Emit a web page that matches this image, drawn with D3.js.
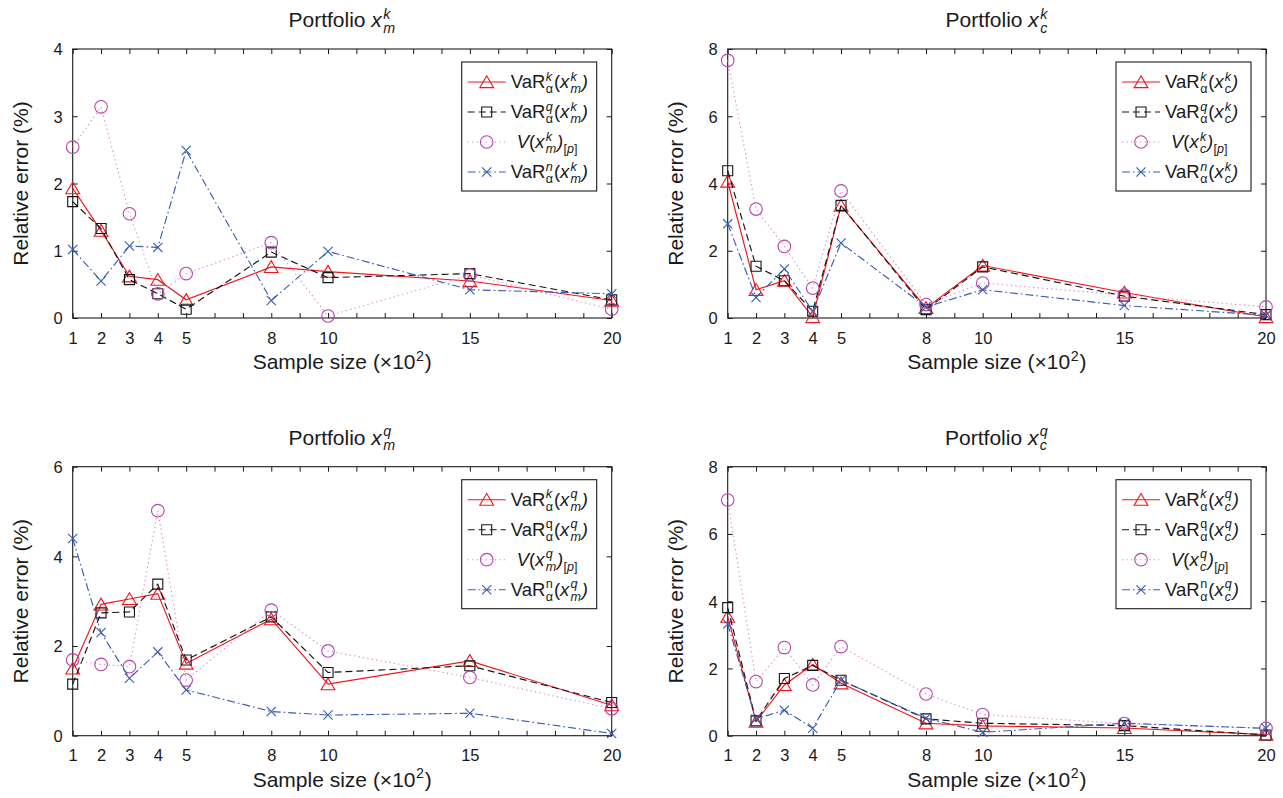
<!DOCTYPE html>
<html>
<head>
<meta charset="utf-8">
<script src="https://cdn.jsdelivr.net/npm/d3@7"></script>
<style>
  body { margin: 0; background: #fff; }
  svg { display: block; }
  text { font-family: "Liberation Sans", Arial, Helvetica, sans-serif; fill: #1a1a1a; white-space: pre; }
</style>
</head>
<body>
<svg id="chart" width="1283" height="798"></svg>
<script>
// Sample sizes (x 10^2) and the labelled x ticks
const sampleSizes = [1, 2, 3, 4, 5, 8, 10, 15, 20];
const xTickLabels = [1, 2, 3, 4, 5, 8, 10, 15, 20];

// y ticks per panel
const yTicksMK = [0, 1, 2, 3, 4];
const yTicksCK = [0, 2, 4, 6, 8];
const yTicksMQ = [0, 2, 4, 6];
const yTicksCQ = [0, 2, 4, 6, 8];

// Portfolio x_m^k : relative error (%)
const mkVaRk = [1.93, 1.30, 0.62, 0.57, 0.27, 0.76, 0.69, 0.55, 0.26];
const mkVaRq = [1.73, 1.33, 0.57, 0.36, 0.13, 0.98, 0.60, 0.66, 0.27];
const mkV    = [2.54, 3.14, 1.55, 0.36, 0.66, 1.12, 0.03, 0.64, 0.13];
const mkVaRn = [1.02, 0.55, 1.07, 1.05, 2.49, 0.26, 0.99, 0.42, 0.36];

// Portfolio x_c^k
const ckVaRk = [4.06, 0.84, 1.11, 0.03, 3.34, 0.30, 1.56, 0.76, 0.03];
const ckVaRq = [4.38, 1.54, 1.11, 0.20, 3.35, 0.25, 1.52, 0.65, 0.10];
const ckV    = [7.66, 3.24, 2.13, 0.89, 3.78, 0.40, 1.04, 0.68, 0.33];
const ckVaRn = [2.80, 0.61, 1.46, 0.20, 2.23, 0.33, 0.84, 0.37, 0.08];

// Portfolio x_m^q
const mqVaRk = [1.50, 2.93, 3.05, 3.17, 1.61, 2.60, 1.15, 1.67, 0.68];
const mqVaRq = [1.15, 2.74, 2.76, 3.38, 1.69, 2.65, 1.41, 1.56, 0.74];
const mqV    = [1.69, 1.59, 1.54, 5.02, 1.24, 2.80, 1.89, 1.30, 0.60];
const mqVaRn = [4.40, 2.30, 1.28, 1.87, 1.02, 0.54, 0.46, 0.50, 0.05];

// Portfolio x_c^q
const cqVaRk = [3.54, 0.42, 1.51, 2.12, 1.56, 0.37, 0.29, 0.23, 0.03];
const cqVaRq = [3.81, 0.44, 1.70, 2.09, 1.65, 0.50, 0.37, 0.30, 0.02];
const cqV    = [7.01, 1.61, 2.62, 1.51, 2.65, 1.24, 0.63, 0.36, 0.22];
const cqVaRn = [3.32, 0.50, 0.76, 0.22, 1.65, 0.52, 0.10, 0.37, 0.22];

// ---------- styles ----------
const styles = [
  { line: "#f2141c", marker: "#f2141c", dash: null,        shape: "tri" },
  { line: "#141414", marker: "#141414", dash: "7,4",       shape: "sq"  },
  { line: "#d98ad2", marker: "#b445aa", dash: "1.3,3.2",   shape: "circ"},
  { line: "#3a5cb6", marker: "#3a5cb6", dash: "8,3,1.6,3", shape: "x"   }
];

const circlePath = (() => { const p = d3.path(); p.arc(0, 0, 6.3, 0, 2 * Math.PI); p.closePath(); return p.toString(); })();
const markerPath = {
  tri: "M0,-6.2L6.9,5.6L-6.9,5.6Z",
  sq: "M-5,-5H5V5H-5Z",
  circ: circlePath,
  x: "M-4.6,-4.6L4.6,4.6M4.6,-4.6L-4.6,4.6"
};

// ---------- rich text with stacked scripts ----------
function run(grp, parts, x, y, fs) {
  const el = grp.append("text").attr("x", x).attr("y", y).attr("font-size", fs)
    .attr("xml:space", "preserve");
  parts.forEach(([t, it]) => el.append("tspan").attr("font-style", it ? "italic" : "normal").text(t));
  return el.node().getComputedTextLength();
}

function rich(parent, tokens, x, y, fs, anchor) {
  const g = parent.append("g");
  const ss = fs * 0.68;
  let cx = 0;
  tokens.forEach(tk => {
    if (tk.t !== undefined) {
      cx += run(g, [[tk.t, tk.i]], cx, 0, fs);
    } else {
      const x0 = cx + (tk.dx || 0.5);
      let w = 0;
      if (tk.sup) w = Math.max(w, run(g, tk.sup, x0, -fs * 0.40, ss));
      if (tk.sub) w = Math.max(w, run(g, tk.sub, x0, fs * 0.27, ss));
      cx = x0 + w + 0.8;
    }
  });
  const shift = anchor === "middle" ? -cx / 2 : anchor === "end" ? -cx : 0;
  g.attr("transform", `translate(${x + shift},${y})`);
  return cx;
}

// token builders
const varTok = (supTxt, supIt, portSub, portSup) => [
  { t: "VaR" },
  { sup: [[supTxt, supIt]], sub: [["α", 0]] },
  { t: "(" }, { t: "x", i: 1 },
  { sup: [[portSup, 1]], sub: [[portSub, 1]], dx: 1.2 },
  { t: ")", i: 1 }
];
const vTok = (portSub, portSup) => [
  { t: "V", i: 1 }, { t: "(" }, { t: "x", i: 1 },
  { sup: [[portSup, 1]], sub: [[portSub, 1]], dx: 1.2 },
  { t: ")", i: 1 },
  { sub: [["[", 0], ["p", 1], ["]", 0]], dx: 0.3 }
];

// ---------- panels ----------
const panels = [
  { sub: "m", sup: "k", qIt: 1, nIt: 1, series: [mkVaRk, mkVaRq, mkV, mkVaRn], yTicks: yTicksMK,
    box: { x: 72.7, y: 49, w: 539, h: 269 } },
  { sub: "c", sup: "k", qIt: 1, nIt: 1, series: [ckVaRk, ckVaRq, ckV, ckVaRn], yTicks: yTicksCK,
    box: { x: 727.7, y: 49, w: 538.3, h: 269 } },
  { sub: "m", sup: "q", qIt: 0, nIt: 0, series: [mqVaRk, mqVaRq, mqV, mqVaRn], yTicks: yTicksMQ,
    box: { x: 72.7, y: 466.7, w: 539, h: 269 } },
  { sub: "c", sup: "q", qIt: 0, nIt: 0, series: [cqVaRk, cqVaRq, cqV, cqVaRn], yTicks: yTicksCQ,
    box: { x: 727.7, y: 466.7, w: 538.3, h: 269 } }
];

const svg = d3.select("#chart");

panels.forEach(p => {
  const b = p.box;
  const g = svg.append("g").attr("transform", `translate(${b.x},${b.y})`);
  const x = d3.scaleLinear().domain([1, 20]).range([0, b.w]);
  const y = d3.scaleLinear().domain([0, d3.max(p.yTicks)]).range([b.h, 0]);
  const minorX = d3.range(1, 21);

  // axes (inward ticks on all four sides)
  const tickLen = 5;
  const bottom = g.append("g").attr("transform", `translate(0,${b.h})`)
    .call(d3.axisBottom(x).tickValues(minorX).tickSizeInner(-tickLen).tickSizeOuter(0)
      .tickFormat(d => xTickLabels.includes(d) ? d : ""));
  const top = g.append("g")
    .call(d3.axisTop(x).tickValues(minorX).tickSizeInner(-tickLen).tickSizeOuter(0).tickFormat(""));
  const left = g.append("g")
    .call(d3.axisLeft(y).tickValues(p.yTicks).tickSizeInner(-tickLen).tickSizeOuter(0).tickFormat(d3.format("d")));
  const right = g.append("g").attr("transform", `translate(${b.w},0)`)
    .call(d3.axisRight(y).tickValues(p.yTicks).tickSizeInner(-tickLen).tickSizeOuter(0).tickFormat(""));
  [bottom, top, left, right].forEach(a => {
    a.select(".domain").remove();
    a.selectAll("line").attr("stroke", "#1a1a1a").attr("stroke-width", 1);
    a.selectAll("text").attr("font-size", 16.5).attr("fill", "#1a1a1a")
      .attr("font-family", "'Liberation Sans', Arial, sans-serif");
  });
  bottom.selectAll("text").attr("y", 14).attr("dy", "0.71em");
  left.selectAll("text").attr("x", -10).attr("dy", "0.36em");

  g.append("rect").attr("width", b.w).attr("height", b.h)
    .attr("fill", "none").attr("stroke", "#1a1a1a").attr("stroke-width", 1.1);

  // series lines then markers
  p.series.forEach((vals, si) => {
    const st = styles[si];
    const pts = sampleSizes.map((s, i) => [x(s), y(vals[i])]);
    g.append("path").attr("d", d3.line()(pts)).attr("fill", "none")
      .attr("stroke", st.line).attr("stroke-width", 1.15)
      .attr("stroke-dasharray", st.dash);
    g.append("g").selectAll("path").data(pts).join("path")
      .attr("transform", d => `translate(${d[0]},${d[1]})`)
      .attr("d", markerPath[st.shape]).attr("fill", "none")
      .attr("stroke", st.marker).attr("stroke-width", 1.1);
  });

  // title
  rich(g, [{ t: "Portfolio\u00a0" }, { t: "x", i: 1 },
           { sup: [[p.sup, 1]], sub: [[p.sub, 1]], dx: 1.4 }],
       b.w / 2, -22, 21, "middle");

  // axis labels
  rich(g, [{ t: "Sample size (×10" }, { sup: [["2", 0]], dx: 0.5 }, { t: ")" }],
       b.w / 2, b.h + 51, 21, "middle");
  g.append("text").attr("transform", `translate(${-45},${b.h / 2}) rotate(-90)`)
    .attr("text-anchor", "middle").attr("font-size", 21).text("Relative error (%)");

  // legend
  const lw = 135, lh = 129;
  const lx = b.w - 15 - lw, ly = 13;
  const lg = g.append("g").attr("transform", `translate(${lx},${ly})`);
  lg.append("rect").attr("width", lw).attr("height", lh)
    .attr("fill", "#fff").attr("stroke", "#1a1a1a").attr("stroke-width", 1.1);
  const entries = [
    varTok("k", 1, p.sub, p.sup),
    varTok("q", p.qIt, p.sub, p.sup),
    vTok(p.sub, p.sup),
    varTok("n", p.nIt, p.sub, p.sup)
  ];
  entries.forEach((tok, i) => {
    const st = styles[i];
    const ry = 20 + 30 * i;
    lg.append("line").attr("x1", 6).attr("x2", 44).attr("y1", ry).attr("y2", ry)
      .attr("stroke", st.line).attr("stroke-width", 1.15).attr("stroke-dasharray", st.dash);
    lg.append("path").attr("transform", `translate(25,${ry})`).attr("d", markerPath[st.shape])
      .attr("fill", "none").attr("stroke", st.marker).attr("stroke-width", 1.1);
    rich(lg, tok, i === 2 ? 55 : 49, ry + 6, 18.5, "start");
  });
});
</script>
</body>
</html>
